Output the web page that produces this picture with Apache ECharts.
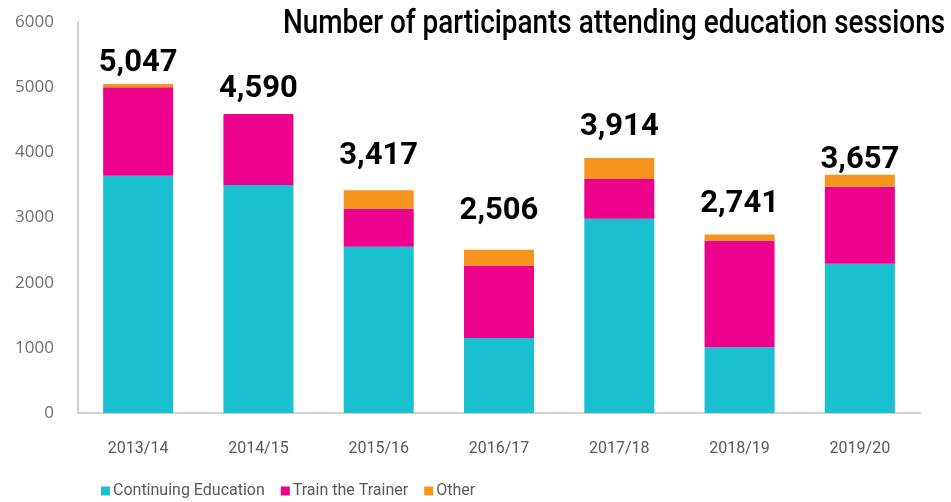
<!DOCTYPE html>
<html>
<head>
<meta charset="utf-8">
<script src="https://cdn.jsdelivr.net/npm/echarts@6/dist/echarts.min.js"></script>
<style>
  html, body { margin: 0; padding: 0; background: #fff; }
  #chart { width: 951px; height: 502px; }
</style>
</head>
<body>
<div id="chart"></div>
<script>
// data
const years = ['2013/14', '2014/15', '2015/16', '2016/17', '2017/18', '2018/19', '2019/20'];
const continuingEducation = [3640, 3500, 2550, 1150, 2980, 1010, 2290];
const trainTheTrainer = [1360, 1090, 585, 1110, 610, 1635, 1180];
const other = [47, 0, 282, 246, 324, 96, 187];
const totals = [5047, 4590, 3417, 2506, 3914, 2741, 3657];
const yTicks = [0, 1000, 2000, 3000, 4000, 5000, 6000];

// the total labels sit at uneven heights in the original
const labelGaps = [5, 9, 19, 23, 15, 15, -1];

const titleText = 'Number of participants attending education sessions';

let chart = echarts.init(document.getElementById('chart'));
chart.setOption({
    animation: false,
    // title drawn as graphic text so it can be squeezed like the condensed original
    graphic: [{
        type: 'text',
        x: 945,
        y: 8,
        scaleX: 0.845,
        style: {
            text: titleText,
            textAlign: 'right',
            textVerticalAlign: 'top',
            font: '500 33px Roboto',
            fill: '#000'
        }
    }],
    legend: {
        left: 96,
        bottom: -2,
        itemWidth: 9,
        itemHeight: 9,
        itemGap: 16,
        icon: 'rect',
        textStyle: { fontFamily: 'Roboto', fontSize: 16, color: '#595959', padding: [0, 0, 0, -2] },
        data: ['Continuing Education', 'Train the Trainer', 'Other']
    },
    grid: { left: 78, right: 31, top: 22, bottom: 89 },
    xAxis: {
        type: 'category',
        data: years,
        axisLine: { lineStyle: { color: '#d0d0d0', width: 2 } },
        axisTick: { show: false },
        axisLabel: { fontFamily: 'Roboto', fontSize: 16, color: '#595959', margin: 28 }
    },
    yAxis: {
        type: 'value',
        min: yTicks[0],
        max: yTicks[yTicks.length - 1],
        interval: 1000,
        splitLine: { show: false },
        axisLine: { show: true, lineStyle: { color: '#d0d0d0', width: 2 } },
        axisTick: { show: false },
        axisLabel: {
            fontFamily: "'Open Sans', sans-serif",
            fontSize: 17,
            color: '#6e6e6e',
            margin: 24,
            formatter: v => String(v)
        }
    },
    series: [
        {
            name: 'Continuing Education',
            type: 'bar',
            stack: 'total',
            barWidth: 70,
            itemStyle: { color: '#1abfd0' },
            data: continuingEducation
        },
        {
            name: 'Train the Trainer',
            type: 'bar',
            stack: 'total',
            itemStyle: { color: '#ec008c' },
            data: trainTheTrainer
        },
        {
            name: 'Other',
            type: 'bar',
            stack: 'total',
            itemStyle: { color: '#f7941e' },
            data: other.map((v, i) => ({ value: v, label: { distance: labelGaps[i] } })),
            label: {
                show: true,
                position: 'top',
                fontFamily: 'Roboto',
                fontSize: 31,
                fontWeight: 'bold',
                color: '#000',
                formatter: p => totals[p.dataIndex].toLocaleString('en-US')
            }
        }
    ]
});
</script>
</body>
</html>
